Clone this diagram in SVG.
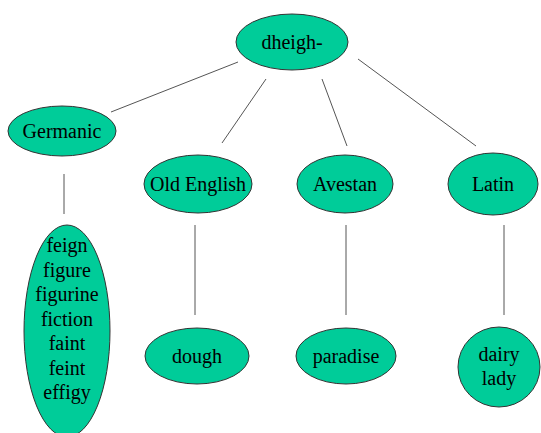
<svg xmlns="http://www.w3.org/2000/svg" width="541" height="433" viewBox="0 0 541 433">
<style>
.n{fill:#00CC99;stroke:#333;stroke-width:1}
.t{font-family:'Liberation Serif','Times New Roman',serif;font-size:20px;fill:#000;text-anchor:middle}
.c{stroke:#555;stroke-width:1;fill:none}
</style>
<rect width="541" height="433" fill="#fff"/>
<g id="connectors">
<line class="c" x1="238" y1="62" x2="111" y2="112"/>
<line class="c" x1="266" y1="79" x2="222" y2="143"/>
<line class="c" x1="322" y1="79" x2="347" y2="146"/>
<line class="c" x1="358" y1="59" x2="476" y2="146"/>
<line class="c" x1="64" y1="174" x2="64" y2="214"/>
<line class="c" x1="195" y1="225" x2="195" y2="315"/>
<line class="c" x1="346" y1="225" x2="346" y2="315"/>
<line class="c" x1="504" y1="225" x2="504" y2="315"/>
</g>
<g id="dheigh"><ellipse class="n" cx="292" cy="42" rx="56" ry="28"/><text class="t" x="292" y="49" font-size="21">dheigh-</text></g>
<g id="germanic"><ellipse class="n" cx="62" cy="131" rx="54" ry="25"/><text class="t" x="62" y="138">Germanic</text></g>
<g id="oldenglish"><ellipse class="n" cx="198" cy="184" rx="54" ry="29"/><text class="t" x="198" y="191">Old English</text></g>
<g id="avestan"><ellipse class="n" cx="345" cy="184" rx="48" ry="29"/><text class="t" x="345" y="191">Avestan</text></g>
<g id="latin"><ellipse class="n" cx="493" cy="184" rx="45" ry="31"/><text class="t" x="493" y="191">Latin</text></g>
<g id="germanicwords"><ellipse class="n" cx="67" cy="331" rx="43" ry="106"/>
<text class="t" x="67" y="252">feign</text>
<text class="t" x="67" y="276.5">figure</text>
<text class="t" x="67" y="301">figurine</text>
<text class="t" x="67" y="325.5">fiction</text>
<text class="t" x="67" y="350">faint</text>
<text class="t" x="67" y="374.5">feint</text>
<text class="t" x="67" y="399">effigy</text></g>
<g id="dough"><ellipse class="n" cx="197" cy="356" rx="52" ry="28"/><text class="t" x="197" y="363">dough</text></g>
<g id="paradise"><ellipse class="n" cx="346" cy="356" rx="50" ry="28"/><text class="t" x="346" y="363">paradise</text></g>
<g id="dairylady"><ellipse class="n" cx="499" cy="367" rx="41" ry="40"/><text class="t" x="499" y="361">dairy</text><text class="t" x="499" y="385">lady</text></g>
</svg>
